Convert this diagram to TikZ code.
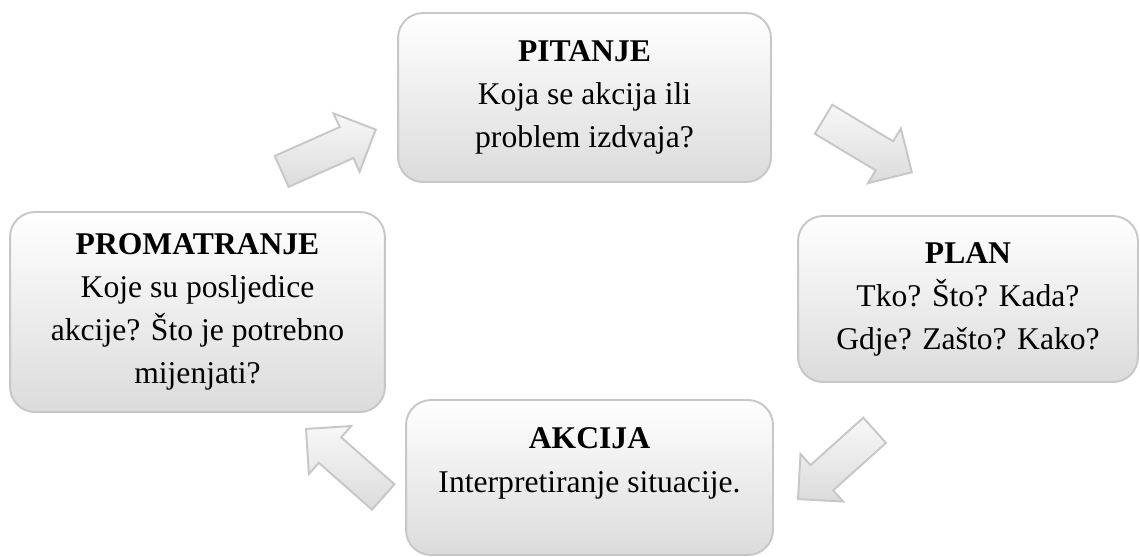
\documentclass[tikz,border=0pt]{standalone}
\usepackage{fontspec}
\setmainfont{Liberation Serif}
\usetikzlibrary{shapes.arrows}

\begin{document}
\begin{tikzpicture}[
  x=0.02cm, y=-0.02cm,
  every node/.style={font=\fontsize{18}{24.5}\selectfont, align=center},
  stage/.style={draw=\colorisB, line width=1.1pt, rounded corners=0.5cm,
    top color=white, bottom color=\colorisF, inner sep=0pt},
  flow/.style={single arrow, draw=\colorisB, line width=1.1pt,
    top color=\colorisT, bottom color=\colorisF,
    minimum height=2.06cm, inner xsep=0pt, inner ysep=0.32cm,
    single arrow head extend=0.3cm, anchor=tip, rotate=#1},
]
%-------------------------------------------------------------
% Custom colors
\newcommand{\colorisB}{white!78!black}
\newcommand{\colorisF}{white!86!black}
\newcommand{\colorisT}{white!97!black}

\useasboundingbox (0,0) rectangle (1140,556);

%-------------------------------------------------------------
% Main stages
\node[stage, minimum width=7.46cm, minimum height=3.38cm] (PI) at (584.5,97.5)
  {\textbf{PITANJE}\\ Koja se akcija ili\\ problem izdvaja?};
\node[stage, minimum width=6.8cm, minimum height=3.32cm] (PL) at (968,299)
  {\textbf{PLAN}\\ Tko? Što? Kada?\\ Gdje? Zašto? Kako?};
\node[stage, minimum width=7.34cm, minimum height=3.1cm, text depth=0.7cm] (AK) at (589.5,477.5)
  {\textbf{AKCIJA}\\ Interpretiranje situacije.};
\node[stage, minimum width=7.5cm, minimum height=4cm] (PR) at (197.5,312)
  {\textbf{PROMATRANJE}\\ Koje su posljedice\\ akcije? Što je potrebno\\ mijenjati?};

%-------------------------------------------------------------
% Cycle arrows
\node[flow=24] (PR-PI) at (377,129) {};
\node[flow=-31] (PI-PL) at (913,173) {};
\node[flow=221.9] (PL-AK) at (797,500) {};
\node[flow=138.6] (AK-PR) at (305,428) {};

\end{tikzpicture}
\end{document}
